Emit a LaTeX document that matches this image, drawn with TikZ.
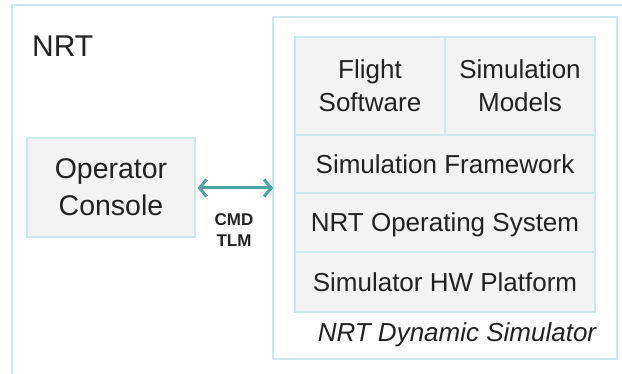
\documentclass[tikz,border=0pt]{standalone}
\usepackage{fontspec}
\setmainfont{Liberation Sans}
\usetikzlibrary{arrows.meta}
\definecolor{frame}{HTML}{CDE7EA}
\definecolor{boxfill}{HTML}{F3F3F3}
\definecolor{link}{HTML}{4FA3A4}
\definecolor{ink}{HTML}{222222}
\begin{document}
\begin{tikzpicture}[x=1pt,y=-1pt,
  layer/.style={draw=frame,line width=1.3pt,fill=boxfill,inner sep=0pt,
    text=ink,align=center,text depth=0pt,font=\fontsize{26}{33}\selectfont},
  tag/.style={text=ink,inner sep=0pt},
  link arrow/.style={draw=link,line width=3pt,
    {Straight Barb[length=7pt,width=17pt]}-{Straight Barb[length=7pt,width=17pt]}}]
\useasboundingbox (0,0) rectangle (622,374);
% outer NRT frame (runs past the page on the right and bottom)
\draw[frame,line width=1.3pt] (12,374) -- (12,5) -- (622,5);
\node[tag,anchor=west,font=\fontsize{30}{36}\selectfont] (nrt) at (32,46) {NRT};
% dynamic simulator frame
\draw[frame,line width=1.3pt,fill=white] (273,17) rectangle (617,359);
% simulator layers
\node[layer,minimum width=150pt,minimum height=98pt] (fsw) at (370,86) {Flight\\Software};
\node[layer,minimum width=150pt,minimum height=98pt] (models) at (520,86) {Simulation\\Models};
\node[layer,minimum width=300pt,minimum height=58pt] (frame) at (445,164) {Simulation Framework};
\node[layer,minimum width=300pt,minimum height=59pt] (os) at (445,222.5) {NRT Operating System};
\node[layer,minimum width=300pt,minimum height=60pt] (hw) at (445,282) {Simulator HW Platform};
\node[tag,font=\fontsize{26}{30}\selectfont\itshape] (simlabel) at (457,334.5) {NRT Dynamic Simulator};
% operator console
\node[layer,minimum width=168pt,minimum height=99pt,font=\fontsize{28.5}{37}\selectfont] (console) at (111,187.5) {Operator\\Console};
% command / telemetry link
\coordinate (simedge) at (273,188);
\draw[link arrow] (console.east |- simedge) ++(2,0) coordinate (linkstart) -- (simedge);
\node[tag,font=\fontsize{17}{21}\selectfont\bfseries,align=center] (cmdtlm) at (234,230) {CMD\\TLM};
\end{tikzpicture}
\end{document}
